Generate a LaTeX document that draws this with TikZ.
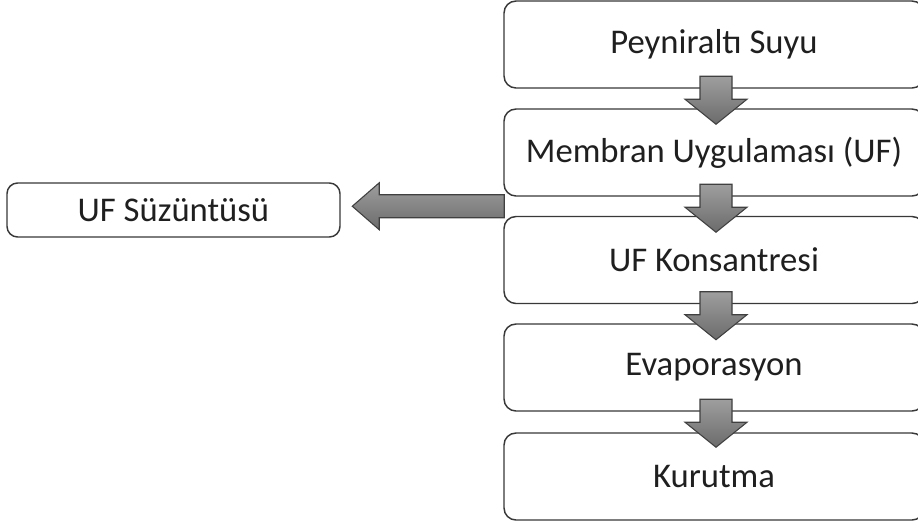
\documentclass[tikz,border=0pt]{standalone}
\usepackage{fontspec}
\setmainfont{Carlito}
\usetikzlibrary{calc}
\begin{document}
\begin{tikzpicture}[x=0.75pt,y=-0.75pt,
  stepbox/.style={draw=black!78, line width=1.1pt, rounded corners=9pt,
    minimum width=315pt, minimum height=65.25pt, inner sep=0pt,
    font=\fontsize{26}{30}\selectfont, text=black!88},
  sidebox/.style={stepbox, minimum width=249.75pt, minimum height=40.5pt, rounded corners=8pt},
  arrowfill/.style={draw=black!75, line width=0.8pt, top color=black!38,
    bottom color=black!58, line join=miter},
  pics/downarrow/.style={code={
    \path[arrowfill] (-16,0) -- (16,0) -- (16,23) -- (31,23) -- (0,48)
      -- (-31,23) -- (-16,23) -- cycle;}},
  pics/leftarrow/.style={code={
    \path[arrowfill] (0,-11.5) -- (-125,-11.5) -- (-125,-23.5) -- (-152,0)
      -- (-125,23.5) -- (-125,11.5) -- (0,11.5) -- cycle;}}
]
\useasboundingbox (0,0) rectangle (918,526);
\clip (0,0) rectangle (918,526);

% process steps
\node[stepbox] (b1) at (714,44.5) {Peyniraltı Suyu};
\node[stepbox] (b2) at (714,152.5) {Membran Uygulaması (UF)};
\node[stepbox] (b3) at (714,260) {UF Konsantresi};
\node[stepbox] (b4) at (714,367.5) {Evaporasyon};
\node[stepbox] (b5) at (714,476.5) {Kurutma};

% side product
\node[sidebox] (side) at (173.5,210) {UF Süzüntüsü};

% flow arrows
\pic at ($(b1.south)+(2,-12.5)$) {downarrow};
\pic at ($(b2.south)+(2,-12.5)$) {downarrow};
\pic at ($(b3.south)+(2,-12.5)$) {downarrow};
\pic at ($(b4.south)+(2,-12.5)$) {downarrow};
\pic at ($($(b2.south west)!0.5!(b3.north west)$)+(1,0)$) {leftarrow};
\end{tikzpicture}
\end{document}
